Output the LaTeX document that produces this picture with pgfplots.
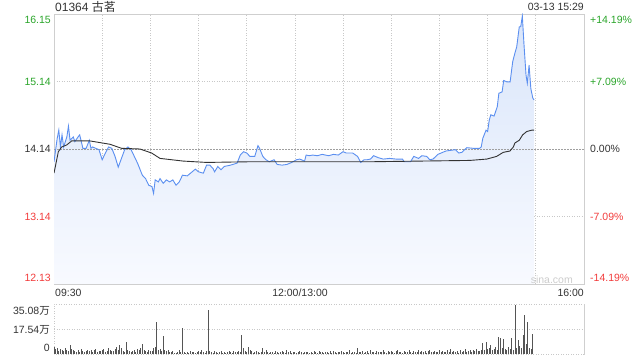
\documentclass[border=0pt]{standalone}
\usepackage{pgfplots}
\pgfplotsset{compat=1.18}
\usepackage{pgfplotstable}
\usepackage{fontspec}
\setmainfont{Liberation Sans}
\newfontfamily\cjk{Noto Sans CJK SC}
\definecolor{pgreen}{HTML}{2AA52A}
\definecolor{pred}{HTML}{F23C3C}
\definecolor{pblue}{HTML}{5B8FF0}
\definecolor{gridc}{HTML}{C8C8C8}
\definecolor{framec}{HTML}{CFCFCF}
\definecolor{fillt}{HTML}{D9E5FA}
\definecolor{fillb}{HTML}{F8FAFF}
\definecolor{barc}{HTML}{555555}
\definecolor{txt}{HTML}{333333}

\pgfplotstableread{
m p
0 13.95
2 14.30
3 14.42
4 14.17
5 14.35
6 14.17
8 14.32
9 14.48
10 14.27
12 14.32
13 14.25
15 14.32
16 14.35
17 14.25
18 14.15
20 14.15
22 14.27
23 14.15
24 14.17
28 14.13
30 13.98
32 14.08
34 14.17
36 14.15
38 14.03
40 13.87
42 14.00
44 14.13
46 14.17
48 14.13
50 14.03
52 13.93
55 13.75
57 13.70
59 13.60
61 13.58
62 13.48
63 13.68
65 13.65
66 13.70
68 13.63
70 13.68
72 13.65
74 13.68
76 13.60
78 13.65
80 13.75
83 13.74
86 13.80
88 13.84
90 13.80
93 13.78
95 13.90
97 13.90
99 13.85
100 13.80
102 13.88
104 13.83
106 13.88
110 13.90
114 13.93
116 14.05
118 14.10
120 14.08
122 14.03
125 14.03
127 14.19
128 14.15
130 14.03
132 13.98
134 13.95
137 13.98
139 13.91
142 13.90
145 13.91
148 13.94
151 13.98
153 13.99
156 13.96
157 14.05
159 14.04
161 14.05
164 14.04
167 14.06
169 14.05
171 14.04
174 14.06
177 14.05
180 14.10
182 14.08
186 14.08
189 14.03
191 13.94
193 13.98
195 13.98
197 13.99
199 14.04
202 14.01
205 13.99
209 14.00
213 13.99
217 13.99
218 13.95
222 13.95
224 14.03
227 14.00
229 14.04
232 14.03
234 13.98
236 13.99
239 14.06
241 14.08
244 14.11
250 14.13
252 14.08
254 14.09
257 14.16
261 14.15
265 14.15
266 14.17
267 14.30
269 14.42
270 14.40
271 14.57
272 14.65
274 14.63
276 14.77
277 14.97
279 14.99
280 15.16
282 15.14
284 15.14
285.6 15.44
287 15.57
288.1 15.66
289.7 15.96
290.6 15.96
291.6 16.12
292.6 15.71
293.9 15.24
294.7 15.12
295.8 15.39
296.9 15.04
298.1 14.90
298.9 14.87
}\price

\pgfplotstableread{
m a
0 13.78
2.7 14.10
4.8 14.17
7.9 14.20
11 14.26
22.4 14.26
34.9 14.21
42.1 14.15
53.5 14.14
60.8 14.08
66 14.00
80.5 13.96
95.1 13.94
122 13.95
197 13.95
259 13.97
269.5 13.99
275.6 14.03
279.7 14.09
283.9 14.11
286 14.17
287 14.23
289.7 14.27
291.8 14.35
294.3 14.40
297.4 14.42
298.9 14.42
}\avg

\begin{document}
\begin{tikzpicture}[font=\fontsize{10.5bp}{12bp}\selectfont]
\path[use as bounding box] (0,0) rectangle (640bp,360bp);

% ---------- price panel ----------
\begin{axis}[at={(54bp,76bp)}, anchor=south west, scale only axis,
  width=530bp, height=270bp,
  xmin=0, xmax=330, ymin=12.13, ymax=16.15,
  axis line style={draw=framec, line width=0.8bp},
  xtick={30,60,...,300}, ytick={13.14,15.14},
  xticklabels={}, yticklabels={},
  major tick length=0pt,
  grid=major,
  grid style={draw=gridc, line width=0.7bp, dash pattern=on 1bp off 1.5bp},
  clip=true]
\addplot[draw=none, top color=fillt, bottom color=fillb] table[x=m,y=p] {\price} |- (axis cs:0,12.13) -- cycle;
\draw[draw=gray!75, line width=0.7bp, dash pattern=on 1.5bp off 1.5bp] (axis cs:0,14.14) -- (axis cs:330,14.14);
\addplot[pblue, line width=0.9bp, mark=none] table[x=m,y=p] {\price};
\addplot[txt, line width=0.9bp, mark=none] table[x=m,y=a] {\avg};
\end{axis}

% ---------- volume panel ----------
\begin{axis}[at={(54bp,6bp)}, anchor=south west, scale only axis,
  width=530bp, height=50bp,
  xmin=0, xmax=330, ymin=0, ymax=35.08,
  axis line style={draw=gridc, line width=0.7bp, dash pattern=on 1bp off 1.5bp},
  xtick=\empty, ytick={17.54},
  yticklabels={}, major tick length=0pt,
  ymajorgrids,
  grid style={draw=gridc, line width=0.7bp, dash pattern=on 1bp off 1.5bp},
  clip=true]
\addplot[ycomb, draw=barc, line width=0.85bp, mark=none] coordinates {
(0,5.0)(1,3.2)(2,4.1)(3,2.0)(4,3.5)(5,2.8)(6,1.9)(7,4.2)(8,3.0)(9,2.2)
(10,6.3)(11,3.8)(12,2.5)(13,1.8)(14,1.2)(15,2.9)(16,1.5)(17,3.6)(18,2.1)(19,1.4)
(20,2.4)(21,3.1)(22,1.8)(23,2.6)(24,1.3)(25,2.7)(26,3.2)(27,1.6)(28,2.2)(29,1.9)
(30,2.9)(31,3.5)(32,1.7)(33,2.3)(34,4.0)(35,2.6)(36,1.8)(37,2.1)(38,3.4)(39,5.2)
(40,2.7)(41,6.3)(42,4.1)(43,2.2)(44,1.6)(45,8.6)(46,3.0)(47,2.4)(48,1.5)(49,2.0)
(50,2.8)(51,1.7)(52,3.3)(53,2.5)(54,4.4)(55,7.0)(56,3.1)(57,2.0)(58,1.4)(59,2.6)
(60,1.8)(61,2.3)(62,3.9)(63,5.1)(64,22.7)(65,2.9)(66,3.6)(67,1.9)(68,12.8)(69,2.5)
(70,2.2)(71,3.0)(72,1.3)(73,1.1)(74,2.4)(75,1.0)(76,0.8)(77,1.5)(78,2.8)(79,1.2)
(80,18.5)(81,1.6)(82,0.9)(83,1.4)(84,0.7)(85,1.8)(86,1.1)(87,1.3)(88,0.9)(89,1.5)
(90,2.0)(91,1.2)(92,3.1)(93,1.4)(94,1.0)(95,2.3)(96,30.9)(97,1.8)(98,1.1)(99,0.9)
(100,2.4)(101,1.3)(102,0.8)(103,1.6)(104,2.1)(105,1.0)(106,1.4)(107,0.7)(108,1.2)(109,1.9)
(110,1.1)(111,0.9)(112,2.2)(113,1.5)(114,1.3)(115,2.0)(116,1.7)(117,13.3)(118,4.5)(119,2.1)
(120,1.4)(121,5.2)(122,2.6)(123,1.8)(124,1.0)(125,1.5)(126,2.3)(127,1.2)(128,0.9)(129,1.6)
(130,4.0)(131,1.3)(132,2.5)(133,1.1)(134,0.8)(135,1.7)(136,1.4)(137,1.0)(138,2.2)(139,1.2)
(140,0.9)(141,1.5)(142,1.8)(143,1.1)(144,0.7)(145,2.6)(146,1.3)(147,1.9)(148,1.0)(149,1.4)
(150,1.2)(151,0.8)(152,1.6)(153,2.0)(154,1.1)(155,0.9)(156,1.4)(157,1.7)(158,1.2)(159,0.8)
(160,1.5)(161,1.0)(162,2.3)(163,1.3)(164,0.9)(165,1.8)(166,1.1)(167,1.4)(168,0.7)(169,1.6)
(170,1.2)(171,0.9)(172,1.9)(173,1.0)(174,2.2)(175,1.3)(176,0.8)(177,1.5)(178,1.1)(179,2.0)
(180,1.4)(181,0.9)(182,1.7)(183,1.2)(184,2.5)(185,1.0)(186,1.6)(187,1.3)(188,0.8)(189,4.4)
(190,1.5)(191,1.1)(192,2.1)(193,0.9)(194,1.4)(195,1.8)(196,1.0)(197,2.6)(198,1.2)(199,1.5)
(200,0.9)(201,2.0)(202,1.3)(203,1.7)(204,1.1)(205,2.8)(206,1.4)(207,1.0)(208,1.9)(209,1.2)
(210,2.3)(211,1.5)(212,1.0)(213,1.8)(214,2.7)(215,1.1)(216,1.4)(217,0.9)(218,2.0)(219,1.6)
(220,1.2)(221,2.9)(222,1.5)(223,1.0)(224,2.2)(225,1.7)(226,1.3)(227,3.1)(228,1.1)(229,1.8)
(230,1.4)(231,2.4)(232,1.0)(233,1.9)(234,2.8)(235,1.2)(236,1.6)(237,2.1)(238,1.3)(239,1.5)
(240,3.0)(241,1.1)(242,2.0)(243,1.4)(244,1.7)(245,2.5)(246,1.2)(247,3.3)(248,1.6)(249,1.9)
(250,1.3)(251,2.2)(252,1.0)(253,2.7)(254,1.5)(255,1.8)(256,3.2)(257,1.4)(258,2.1)(259,2.6)
(260,1.7)(261,2.9)(262,2.0)(263,3.5)(264,2.4)(265,1.8)(266,3.1)(267,8.0)(268,2.6)(269,8.2)
(270,3.3)(271,4.5)(272,6.3)(273,3.0)(274,3.8)(275,4.6)(276,2.9)(277,12.2)(278,11.5)(279,4.0)
(280,10.5)(281,3.5)(282,2.7)(283,5.0)(284,3.2)(285,11.0)(286,2.9)(287,34.4)(288,4.2)(289,9.8)
(290,5.6)(291,4.1)(292,13.3)(293,27.4)(294,7.0)(295,22.7)(296,4.5)(297,3.8)(298,13.8)
};
\end{axis}
\draw[framec, line width=0.8bp] (584bp,6bp) -- (584bp,56bp);

% ---------- text ----------
\node[anchor=west, text=txt, inner sep=0pt, font=\fontsize{12bp}{14bp}\selectfont] at (55bp,353bp) {01364 {\cjk 古茗}};
\node[anchor=east, text=txt, inner sep=0pt] at (584bp,353bp) {03-13 15:29};

\node[anchor=east, text=pgreen, inner sep=0pt] at (51bp,340bp) {16.15};
\node[anchor=east, text=pgreen, inner sep=0pt] at (51bp,278bp) {15.14};
\node[anchor=east, text=txt, inner sep=0pt] at (51bp,211bp) {14.14};
\node[anchor=east, text=pred, inner sep=0pt] at (51bp,143bp) {13.14};
\node[anchor=east, text=pred, inner sep=0pt] at (51bp,82bp) {12.13};

\node[anchor=west, text=pgreen, inner sep=0pt] at (590bp,340bp) {+14.19\%};
\node[anchor=west, text=pgreen, inner sep=0pt] at (590bp,278bp) {+7.09\%};
\node[anchor=west, text=txt, inner sep=0pt] at (590bp,211bp) {0.00\%};
\node[anchor=west, text=pred, inner sep=0pt] at (590bp,143bp) {-7.09\%};
\node[anchor=west, text=pred, inner sep=0pt] at (590bp,82bp) {-14.19\%};

\node[anchor=east, text=black!20, inner sep=0pt] at (573bp,80bp) {sina.com};

\node[anchor=west, text=txt, inner sep=0pt] at (55bp,67bp) {09:30};
\node[anchor=center, text=txt, inner sep=0pt] at (300bp,67bp) {12:00/13:00};
\node[anchor=east, text=txt, inner sep=0pt] at (584bp,67bp) {16:00};

\node[anchor=east, text=txt, inner sep=0pt] at (50bp,49bp) {35.08{\cjk 万}};
\node[anchor=east, text=txt, inner sep=0pt] at (50bp,30bp) {17.54{\cjk 万}};
\node[anchor=east, text=txt, inner sep=0pt] at (50bp,12bp) {0};
\end{tikzpicture}
\end{document}
